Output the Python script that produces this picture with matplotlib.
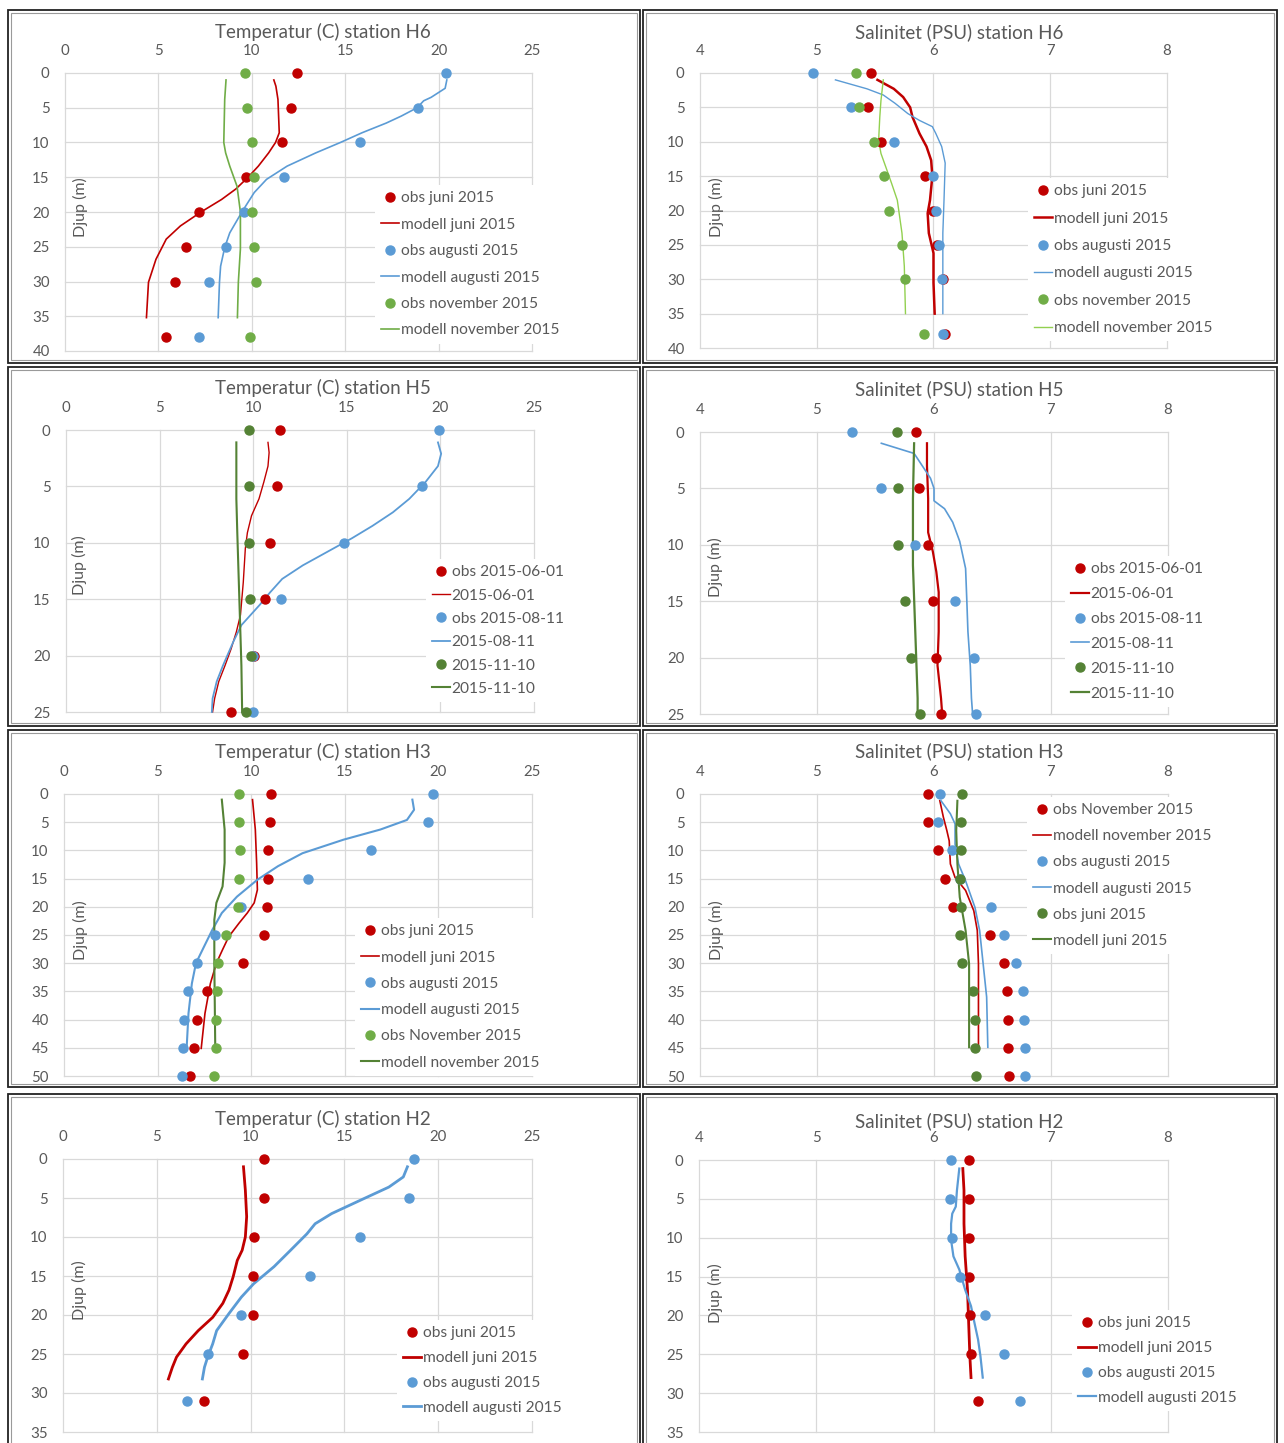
import matplotlib
matplotlib.use('Agg')
import matplotlib.pyplot as plt
from matplotlib.patches import Rectangle

plt.rcParams['font.family'] = ['Lato', 'DejaVu Sans']

# ---------------- DATA ----------------
# Panel 1: Temperatur H6
h6t_obs_depth = [0, 5, 10, 15, 20, 25, 30, 38]
h6t_obs_jun = [12.4, 12.1, 11.6, 9.7, 7.2, 6.5, 5.9, 5.4]
h6t_obs_aug = [20.4, 18.9, 15.8, 11.7, 9.6, 8.6, 7.7, 7.2]
h6t_obs_nov = [9.65, 9.75, 10.0, 10.1, 10.0, 10.1, 10.2, 9.9]
h6t_mod_jun_depth = [1, 1.9, 3.8, 8.6, 10, 11.5, 13.4, 15, 16.7, 18.2, 20, 22, 23.9, 26.8, 30.1, 35.2]
h6t_mod_jun = [11.18, 11.29, 11.4, 11.47, 11.27, 10.9, 10.35, 9.8, 9.14, 8.38, 7.28, 6.18, 5.42, 4.87, 4.47, 4.36]
h6t_mod_aug_depth = [1, 2.2, 3.5, 4.0, 5.0, 6.2, 7.2, 8.6, 10, 11.5, 13.4, 15.3, 17.2, 20, 23, 25.1, 27.8, 30.1, 35.2]
h6t_mod_aug = [20.44, 20.35, 19.6, 19.2, 18.85, 18.0, 17.2, 15.9, 14.74, 13.42, 11.89, 10.79, 10.13, 9.47, 8.82, 8.55, 8.33, 8.27, 8.2]
h6t_mod_nov_depth = [1, 3.8, 10, 11.5, 13.4, 16.3, 20, 25.3, 30.1, 35.2]
h6t_mod_nov = [8.62, 8.55, 8.5, 8.6, 8.82, 9.21, 9.39, 9.39, 9.28, 9.23]

# Panel 2: Salinitet H6
h6s_obs_depth = [0, 5, 10, 15, 20, 25, 30, 38]
h6s_obs_jun = [5.465, 5.44, 5.55, 5.93, 6.0, 6.03, 6.08, 6.1]
h6s_obs_aug = [4.97, 5.29, 5.66, 6.0, 6.02, 6.05, 6.07, 6.08]
h6s_obs_nov = [5.34, 5.36, 5.49, 5.58, 5.62, 5.73, 5.76, 5.92]
h6s_mod_jun_depth = [1, 2.3, 3.5, 5, 6.4, 8.8, 10.7, 12.7, 15, 18.5, 20.4, 23.3, 26.2, 30.5, 35]
h6s_mod_jun = [5.52, 5.66, 5.74, 5.8, 5.82, 5.88, 5.94, 5.98, 5.99, 5.97, 5.95, 5.96, 6.0, 6.0, 6.01]
h6s_mod_aug_depth = [1, 2.3, 3.2, 4.4, 5.9, 6.9, 7.8, 8.8, 10.7, 13.1, 18.5, 23.3, 28.1, 35]
h6s_mod_aug = [5.16, 5.43, 5.57, 5.67, 5.78, 5.88, 5.99, 6.02, 6.07, 6.1, 6.09, 6.08, 6.08, 6.08]
h6s_mod_nov_depth = [1, 4, 6.4, 9.8, 11.7, 13.6, 16, 18.5, 20.9, 23.3, 28.1, 35]
h6s_mod_nov = [5.57, 5.55, 5.54, 5.53, 5.55, 5.59, 5.64, 5.69, 5.71, 5.73, 5.75, 5.76]

# Panel 3: Temperatur H5
h5t_obs_depth = [0, 5, 10, 15, 20, 25]
h5t_obs_jun = [11.44, 11.29, 10.9, 10.63, 10.05, 8.8]
h5t_obs_aug = [19.93, 19.02, 14.84, 11.51, 10.0, 9.98]
h5t_obs_nov = [9.78, 9.78, 9.78, 9.83, 9.87, 9.62]
h5t_mod_jun_depth = [1.1, 2, 3.2, 4.6, 6.1, 7.6, 9.1, 10.5, 13.5, 16.4, 17.9, 19.4, 20.9, 22.3, 23.8, 25]
h5t_mod_jun = [10.79, 10.85, 10.79, 10.57, 10.31, 9.91, 9.69, 9.58, 9.47, 9.32, 9.1, 8.82, 8.49, 8.16, 7.94, 7.83]
h5t_mod_aug_depth = [1.1, 2.1, 3.2, 4.6, 6.1, 7.3, 8.5, 9.6, 10.8, 12, 13.2, 14.4, 15.5, 17.3, 18.8, 20.9, 22.3, 23.8, 25]
h5t_mod_aug = [19.87, 20.04, 19.87, 19.21, 18.34, 17.46, 16.37, 15.27, 13.96, 12.65, 11.55, 10.9, 10.35, 9.37, 8.93, 8.38, 8.05, 7.83, 7.79]
h5t_mod_nov_depth = [1.1, 6.1, 9.1, 15, 20.9, 25]
h5t_mod_nov = [9.1, 9.1, 9.15, 9.26, 9.37, 9.41]

# Panel 4: Salinitet H5
h5s_obs_depth = [0, 5, 10, 15, 20, 25]
h5s_obs_jun = [5.846, 5.87, 5.95, 5.99, 6.02, 6.06]
h5s_obs_aug = [5.3, 5.545, 5.84, 6.18, 6.34, 6.36]
h5s_obs_nov = [5.685, 5.69, 5.695, 5.75, 5.8, 5.88]
h5s_mod_jun_depth = [1, 3, 5.9, 8.9, 10.6, 12.4, 14.2, 17.7, 20.7, 23.6, 25]
h5s_mod_jun = [5.94, 5.94, 5.95, 5.95, 5.99, 6.02, 6.04, 6.04, 6.03, 6.06, 6.07]
h5s_mod_aug_depth = [1, 1.9, 3, 4.1, 5, 6.1, 6.8, 8, 9.7, 12.1, 14.8, 17.7, 20.7, 23.6, 25]
h5s_mod_aug = [5.55, 5.83, 5.9, 5.97, 6.0, 6.0, 6.09, 6.16, 6.22, 6.27, 6.28, 6.29, 6.31, 6.32, 6.33]
h5s_mod_nov_depth = [1, 5.9, 11.8, 17.7, 23.6, 25]
h5s_mod_nov = [5.83, 5.82, 5.82, 5.84, 5.86, 5.86]

# Panel 5: Temperatur H3
h3t_obs_depth = [0, 5, 10, 15, 20, 25, 30, 35, 40, 45, 50]
h3t_obs_jun = [11.08, 11.03, 10.9, 10.9, 10.84, 10.66, 9.54, 7.64, 7.09, 6.94, 6.72]
h3t_obs_aug = [19.72, 19.46, 16.4, 13.05, 9.46, 8.08, 7.09, 6.61, 6.39, 6.35, 6.28]
h3t_obs_nov = [9.33, 9.33, 9.39, 9.37, 9.28, 8.65, 8.23, 8.19, 8.1, 8.1, 8.03]
h3t_mod_jun_depth = [1, 6.3, 12.2, 17, 19.3, 21.1, 22.9, 25.3, 27.6, 30, 33.6, 38.9, 45.1]
h3t_mod_jun = [10.07, 10.22, 10.29, 10.33, 10.16, 9.79, 9.35, 8.8, 8.47, 8.14, 7.82, 7.53, 7.33]
h3t_mod_aug_depth = [1, 2.8, 4.6, 6.3, 8.1, 10.5, 12.8, 15.2, 18.2, 21.1, 24.1, 27, 30, 33.6, 38.9, 45.1]
h3t_mod_aug = [18.61, 18.7, 18.32, 16.9, 14.93, 12.74, 11.43, 10.33, 9.24, 8.43, 7.92, 7.49, 7.05, 6.83, 6.65, 6.55]
h3t_mod_nov_depth = [1, 6.3, 12.2, 16.4, 19.3, 22.3, 30, 35.9, 45.1]
h3t_mod_nov = [8.43, 8.58, 8.58, 8.47, 8.14, 8.03, 8.03, 8.05, 8.08]

# Panel 6: Salinitet H3 (legend: red = november, green = juni)
h3s_obs_depth = [0, 5, 10, 15, 20, 25, 30, 35, 40, 45, 50]
h3s_obs_nov = [5.945, 5.95, 6.03, 6.09, 6.16, 6.48, 6.6, 6.62, 6.63, 6.63, 6.64]
h3s_obs_aug = [6.05, 6.03, 6.15, 6.22, 6.49, 6.6, 6.7, 6.76, 6.77, 6.78, 6.78]
h3s_obs_jun = [6.24, 6.23, 6.23, 6.22, 6.23, 6.22, 6.24, 6.33, 6.35, 6.35, 6.36]
h3s_mod_nov_depth = [1.2, 4.1, 6.5, 8.3, 12.4, 14.8, 17.1, 20.7, 24.2, 30.1, 36, 44.9]
h3s_mod_nov = [6.05, 6.08, 6.11, 6.13, 6.14, 6.18, 6.27, 6.34, 6.37, 6.38, 6.38, 6.38]
h3s_mod_aug_depth = [1.2, 3.5, 5.3, 8.9, 12.4, 15.4, 20.1, 24.2, 30.1, 36, 44.9]
h3s_mod_aug = [6.06, 6.14, 6.18, 6.18, 6.21, 6.27, 6.35, 6.39, 6.42, 6.45, 6.46]
h3s_mod_jun_depth = [1.2, 6.5, 12.4, 18.3, 24.2, 30.1, 36, 44.9]
h3s_mod_jun = [6.2, 6.19, 6.2, 6.22, 6.27, 6.3, 6.3, 6.3]

# Panel 7: Temperatur H2
h2t_obs_depth = [0, 5, 10, 15, 20, 25, 31]
h2t_obs_jun = [10.71, 10.69, 10.2, 10.14, 10.12, 9.57, 7.52]
h2t_obs_aug = [18.73, 18.42, 15.82, 13.18, 9.48, 7.74, 6.62]
h2t_mod_jun_depth = [1, 4, 7.4, 10, 11.7, 13, 15.1, 16.8, 18.5, 20.3, 22, 23.7, 25.4, 26.7, 28.2]
h2t_mod_jun = [9.62, 9.72, 9.79, 9.72, 9.55, 9.29, 9.07, 8.85, 8.52, 7.98, 7.21, 6.56, 6.05, 5.83, 5.62]
h2t_mod_aug_depth = [1, 2.3, 3.6, 5.3, 7, 8.3, 9.6, 11.7, 13.8, 16, 17.7, 19.8, 22, 23.7, 25.4, 26.7, 28.2]
h2t_mod_aug = [18.36, 18.14, 17.37, 15.84, 14.32, 13.44, 13.0, 12.13, 11.25, 10.16, 9.51, 8.85, 8.19, 7.98, 7.71, 7.54, 7.43]

# Panel 8: Salinitet H2
h2s_obs_depth = [0, 5, 10, 15, 20, 25, 31]
h2s_obs_jun = [6.3, 6.3, 6.3, 6.3, 6.31, 6.32, 6.38]
h2s_obs_aug = [6.15, 6.14, 6.16, 6.23, 6.44, 6.6, 6.74]
h2s_mod_jun_depth = [1.1, 3.9, 8.2, 12.4, 16.7, 21, 25.2, 28]
h2s_mod_jun = [6.25, 6.26, 6.26, 6.27, 6.29, 6.3, 6.31, 6.32]
h2s_mod_aug_depth = [1.1, 3.9, 6, 6.9, 8.2, 10.3, 12.4, 14.1, 16.7, 18.8, 21, 23.1, 25.2, 28]
h2s_mod_aug = [6.22, 6.2, 6.19, 6.16, 6.15, 6.15, 6.17, 6.22, 6.27, 6.32, 6.35, 6.38, 6.4, 6.42]

# ---------------- STYLE ----------------
RED = '#C00000'
BLUE = '#5B9BD5'
LGREEN = '#70AD47'
PGREEN = '#92D050'
DGREEN = '#548235'
GRAY = '#595959'
GRID = '#D9D9D9'

W, H = 1284, 1443
fig = plt.figure(figsize=(W / 100, H / 100), dpi=100)


def fx(px):
    return px / W


def fy(py):
    return 1 - py / H


# panel frames (double lines like the screenshot)
frames = [(8, 640, 10, 363), (643, 1277, 10, 363),
          (8, 640, 367, 726), (643, 1277, 367, 726),
          (8, 640, 730, 1087), (643, 1277, 730, 1087),
          (8, 640, 1094, 1460), (643, 1277, 1094, 1460)]
for (x0, x1, y0, y1) in frames:
    fig.add_artist(Rectangle((fx(x0), fy(y1)), (x1 - x0) / W, (y1 - y0) / H,
                             transform=fig.transFigure, fill=False,
                             edgecolor='#222222', lw=1.3))
    fig.add_artist(Rectangle((fx(x0 + 3), fy(y1 - 3)), (x1 - x0 - 6) / W, (y1 - y0 - 6) / H,
                             transform=fig.transFigure, fill=False,
                             edgecolor='#9a9a9a', lw=0.8))


def make_panel(box, xlim, xstep, ymax, title, title_xy, ylab_xy):
    x0, x1, y0, y1 = box
    ax = fig.add_axes([fx(x0), fy(y1), (x1 - x0) / W, (y1 - y0) / H])
    ax.set_xlim(xlim[0], xlim[1])
    ax.set_ylim(ymax, 0)
    xt = []
    v = xlim[0]
    while v <= xlim[1] + 1e-9:
        xt.append(v)
        v += xstep
    ax.set_xticks(xt)
    ax.set_yticks(list(range(0, ymax + 1, 5)))
    ax.xaxis.tick_top()
    ax.tick_params(axis='x', length=0, pad=10.5, labelsize=10.8, colors=GRAY)
    ax.tick_params(axis='y', length=0, pad=11, labelsize=10.8, colors=GRAY)
    for s in ax.spines.values():
        s.set_visible(False)
    ax.grid(True, color=GRID, lw=0.9)
    ax.set_axisbelow(True)
    for g in ax.get_xgridlines() + ax.get_ygridlines():
        g.set_clip_on(False)
    fig.text(fx(title_xy[0]), fy(title_xy[1]), title, ha='center', va='center',
             fontsize=13.5, color=GRAY)
    fig.text(fx(ylab_xy[0]), fy(ylab_xy[1]), 'Djup (m)', ha='center', va='center',
             rotation=90, fontsize=11.5, color=GRAY)
    return ax


def draw(ax, series, leg_xy, spacing):
    handles = []
    for kind, depth, vals, color, lw, label in series:
        if kind == 'obs':
            h, = ax.plot(vals, depth, 'o', color=color, ms=6.5, label=label,
                         clip_on=False, zorder=3)
        else:
            h, = ax.plot(vals, depth, '-', color=color, lw=lw, label=label,
                         clip_on=False, zorder=2)
        handles.append(h)
    leg = ax.legend(handles=handles, loc='upper left',
                    bbox_to_anchor=(fx(leg_xy[0]), fy(leg_xy[1])),
                    bbox_transform=fig.transFigure, fontsize=11.2,
                    frameon=True, facecolor='white', edgecolor='none',
                    framealpha=1, fancybox=False, borderpad=0.4,
                    handlelength=1.15, handletextpad=0.1, labelspacing=spacing,
                    borderaxespad=0)
    for t in leg.get_texts():
        t.set_color(GRAY)
    leg.set_zorder(5)


# Panel 1
ax = make_panel((65, 532, 73, 351), (0, 25), 5, 40, 'Temperatur (C) station H6', (323, 32), (80, 207))
draw(ax, [
    ('obs', h6t_obs_depth, h6t_obs_jun, RED, 0, 'obs juni 2015'),
    ('mod', h6t_mod_jun_depth, h6t_mod_jun, RED, 1.2, 'modell juni 2015'),
    ('obs', h6t_obs_depth, h6t_obs_aug, BLUE, 0, 'obs augusti 2015'),
    ('mod', h6t_mod_aug_depth, h6t_mod_aug, BLUE, 1.2, 'modell augusti 2015'),
    ('obs', h6t_obs_depth, h6t_obs_nov, LGREEN, 0, 'obs november 2015'),
    ('mod', h6t_mod_nov_depth, h6t_mod_nov, LGREEN, 1.2, 'modell november 2015'),
], (375, 185), 0.8)

# Panel 2
ax = make_panel((700, 1167, 73, 348), (4, 8), 1, 40, 'Salinitet (PSU) station H6', (959, 32), (716, 207))
draw(ax, [
    ('obs', h6s_obs_depth, h6s_obs_jun, RED, 0, 'obs juni 2015'),
    ('mod', h6s_mod_jun_depth, h6s_mod_jun, RED, 1.8, 'modell juni 2015'),
    ('obs', h6s_obs_depth, h6s_obs_aug, BLUE, 0, 'obs augusti 2015'),
    ('mod', h6s_mod_aug_depth, h6s_mod_aug, BLUE, 1.0, 'modell augusti 2015'),
    ('obs', h6s_obs_depth, h6s_obs_nov, LGREEN, 0, 'obs november 2015'),
    ('mod', h6s_mod_nov_depth, h6s_mod_nov, PGREEN, 1.0, 'modell november 2015'),
], (1028, 178), 0.86)

# Panel 3
ax = make_panel((66, 534, 430, 712), (0, 25), 5, 25, 'Temperatur (C) station H5', (323, 388), (79, 565))
draw(ax, [
    ('obs', h5t_obs_depth, h5t_obs_jun, RED, 0, 'obs 2015-06-01'),
    ('mod', h5t_mod_jun_depth, h5t_mod_jun, RED, 1.0, '2015-06-01'),
    ('obs', h5t_obs_depth, h5t_obs_aug, BLUE, 0, 'obs 2015-08-11'),
    ('mod', h5t_mod_aug_depth, h5t_mod_aug, BLUE, 1.3, '2015-08-11'),
    ('obs', h5t_obs_depth, h5t_obs_nov, DGREEN, 0, '2015-11-10'),
    ('mod', h5t_mod_nov_depth, h5t_mod_nov, DGREEN, 1.5, '2015-11-10'),
], (426, 559), 0.6)

# Panel 4
ax = make_panel((700, 1168, 432, 714), (4, 8), 1, 25, 'Salinitet (PSU) station H5', (959, 389), (715, 567))
draw(ax, [
    ('obs', h5s_obs_depth, h5s_obs_jun, RED, 0, 'obs 2015-06-01'),
    ('mod', h5s_mod_jun_depth, h5s_mod_jun, RED, 1.6, '2015-06-01'),
    ('obs', h5s_obs_depth, h5s_obs_aug, BLUE, 0, 'obs 2015-08-11'),
    ('mod', h5s_mod_aug_depth, h5s_mod_aug, BLUE, 1.2, '2015-08-11'),
    ('obs', h5s_obs_depth, h5s_obs_nov, DGREEN, 0, '2015-11-10'),
    ('mod', h5s_mod_nov_depth, h5s_mod_nov, DGREEN, 1.6, '2015-11-10'),
], (1065, 556), 0.7)

# Panel 5
ax = make_panel((64, 532, 794, 1076), (0, 25), 5, 50, 'Temperatur (C) station H3', (323, 752), (80, 930))
draw(ax, [
    ('obs', h3t_obs_depth, h3t_obs_jun, RED, 0, 'obs juni 2015'),
    ('mod', h3t_mod_jun_depth, h3t_mod_jun, RED, 1.2, 'modell juni 2015'),
    ('obs', h3t_obs_depth, h3t_obs_aug, BLUE, 0, 'obs augusti 2015'),
    ('mod', h3t_mod_aug_depth, h3t_mod_aug, BLUE, 1.5, 'modell augusti 2015'),
    ('obs', h3t_obs_depth, h3t_obs_nov, LGREEN, 0, 'obs November 2015'),
    ('mod', h3t_mod_nov_depth, h3t_mod_nov, DGREEN, 1.5, 'modell november 2015'),
], (355, 918), 0.79)

# Panel 6
ax = make_panel((700, 1168, 794, 1076), (4, 8), 1, 50, 'Salinitet (PSU) station H3', (959, 751), (716, 930))
draw(ax, [
    ('obs', h3s_obs_depth, h3s_obs_nov, RED, 0, 'obs November 2015'),
    ('mod', h3s_mod_nov_depth, h3s_mod_nov, RED, 1.2, 'modell november 2015'),
    ('obs', h3s_obs_depth, h3s_obs_aug, BLUE, 0, 'obs augusti 2015'),
    ('mod', h3s_mod_aug_depth, h3s_mod_aug, BLUE, 1.2, 'modell augusti 2015'),
    ('obs', h3s_obs_depth, h3s_obs_jun, DGREEN, 0, 'obs juni 2015'),
    ('mod', h3s_mod_jun_depth, h3s_mod_jun, DGREEN, 1.5, 'modell juni 2015'),
], (1027, 797), 0.78)

# Panel 7
ax = make_panel((63, 532, 1159, 1432), (0, 25), 5, 35, 'Temperatur (C) station H2', (323, 1119), (79, 1290))
draw(ax, [
    ('obs', h2t_obs_depth, h2t_obs_jun, RED, 0, 'obs juni 2015'),
    ('mod', h2t_mod_jun_depth, h2t_mod_jun, RED, 2.0, 'modell juni 2015'),
    ('obs', h2t_obs_depth, h2t_obs_aug, BLUE, 0, 'obs augusti 2015'),
    ('mod', h2t_mod_aug_depth, h2t_mod_aug, BLUE, 2.0, 'modell augusti 2015'),
], (397, 1320), 0.7)

# Panel 8
ax = make_panel((699, 1168, 1160, 1432), (4, 8), 1, 35, 'Salinitet (PSU) station H2', (959, 1121), (715, 1293))
draw(ax, [
    ('obs', h2s_obs_depth, h2s_obs_jun, RED, 0, 'obs juni 2015'),
    ('mod', h2s_mod_jun_depth, h2s_mod_jun, RED, 2.0, 'modell juni 2015'),
    ('obs', h2s_obs_depth, h2s_obs_aug, BLUE, 0, 'obs augusti 2015'),
    ('mod', h2s_mod_aug_depth, h2s_mod_aug, BLUE, 1.6, 'modell augusti 2015'),
], (1072, 1310), 0.7)

fig.savefig('out.png', dpi=100, facecolor='white')
